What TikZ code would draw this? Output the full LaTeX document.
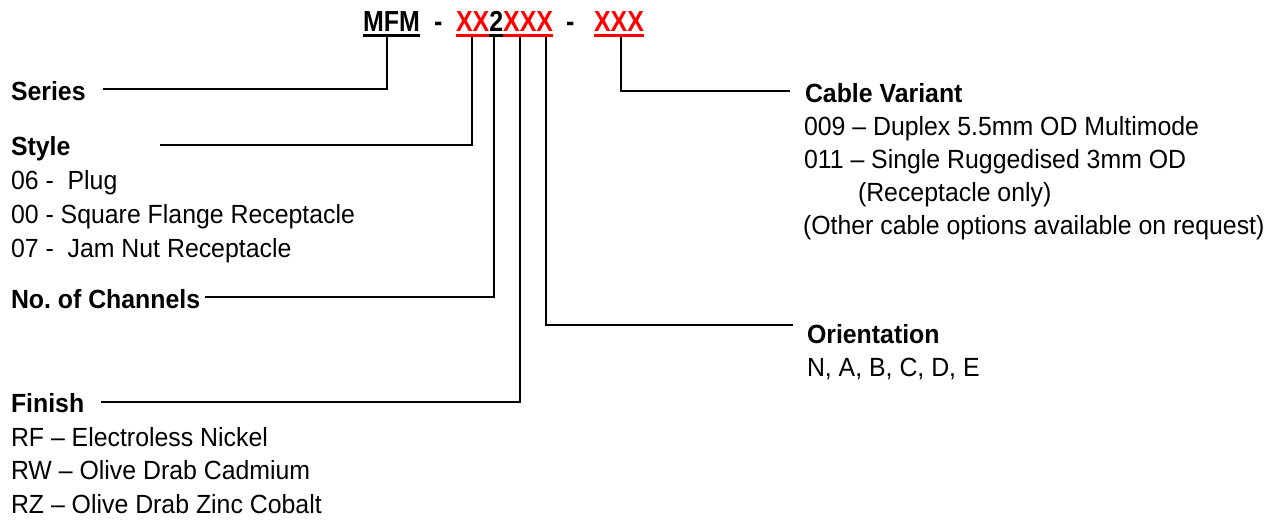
\documentclass[tikz,border=0pt]{standalone}
\usepackage{fontspec}
\setmainfont[FakeStretch=0.945]{Liberation Sans}
\newfontfamily\titlefont[FakeStretch=0.86]{Liberation Sans}
\usetikzlibrary{calc}
\definecolor{pnred}{RGB}{255,0,0}
\begin{document}
\begin{tikzpicture}[x=1pt,y=-1pt,
  every node/.style={inner sep=0pt,outer sep=0pt,anchor=base west},
  txt/.style={font=\fontsize{26.3}{30}\selectfont},
  hd/.style={font=\fontsize{26.3}{30}\selectfont\bfseries},
  ttl/.style={font=\fontsize{29}{32}\selectfont\titlefont\bfseries},
  conn/.style={line width=1.8pt},
  ul/.style={line width=3pt}]
\useasboundingbox (0,0) rectangle (1277,523);
% title
\node[ttl] (mfm) at (363,31) {MFM};
\node[ttl] (d1) at (434,31) {-};
\node[ttl,text=pnred] (xa) at (456,31) {XX};
\node[ttl] (two) at (xa.base east) {2};
\node[ttl,text=pnred] (xb) at (two.base east) {XXX};
\node[ttl] (d2) at (566,31) {-};
\node[ttl,text=pnred] (xc) at (594,31) {XXX};
% underlines
\draw[ul] ($(mfm.base west)+(0,4.8)$) -- ($(mfm.base east)+(0,4.8)$);
\draw[ul,pnred] ($(xa.base west)+(0,4.8)$) -- ($(xa.base east)+(0,4.8)$);
\draw[ul] ($(two.base west)+(0,4.8)$) -- ($(two.base east)+(0,4.8)$);
\draw[ul,pnred] ($(xb.base west)+(0,4.8)$) -- ($(xb.base east)+(0,4.8)$);
\draw[ul,pnred] ($(xc.base west)+(0,4.8)$) -- ($(xc.base east)+(0,4.8)$);
% tick tops
\coordinate (tS) at (387,37);
\coordinate (tSt) at (472,37);
\coordinate (tN) at (494,37);
\coordinate (tF) at (520,37);
\coordinate (tO) at (546,37);
\coordinate (tC) at (621,37);
% left labels
\node[hd] (series) at (11,100) {Series};
\node[hd] (style) at (11,155) {Style};
\node[txt] (s06) at (11,189) {06 -\ \ Plug};
\node[txt] (s00) at (11,223) {00 - Square Flange Receptacle};
\node[txt] (s07) at (11,257) {07 -\ \ Jam Nut Receptacle};
\node[hd] (chan) at (11,308) {No.\ of Channels};
\node[hd] (finish) at (11,412) {Finish};
\node[txt] (frf) at (11,446) {RF – Electroless Nickel};
\node[txt] (frw) at (11,479.5) {RW – Olive Drab Cadmium};
\node[txt] (frz) at (11,513) {RZ – Olive Drab Zinc Cobalt};
% right labels
\node[hd] (cable) at (805,102) {Cable Variant};
\node[txt] (c009) at (804,135) {009 – Duplex 5.5mm OD Multimode};
\node[txt] (c011) at (804,168) {011 – Single Ruggedised 3mm OD};
\node[txt] (crec) at (858,201) {(Receptacle only)};
\node[txt] (coth) at (803,234) {(Other cable options available on request)};
\node[hd] (orient) at (807,343) {Orientation};
\node[txt] (oval) at (807,376.5) {N, A, B, C, D, E};
% connector free ends
\coordinate (eSt) at ($(style.base west)+(149,-10)$);
% connectors
\draw[conn] (tS) |- ($(series.base east)+(17,-11)$);
\draw[conn] (tSt) |- (eSt);
\draw[conn] (tN) |- ($(chan.base east)+(5,-11)$);
\draw[conn] (tF) |- ($(finish.base east)+(17,-10)$);
\draw[conn] (tO) |- ($(orient.base west)+(-14,-18)$);
\draw[conn] (tC) |- ($(cable.base west)+(-15,-11)$);
\end{tikzpicture}
\end{document}
